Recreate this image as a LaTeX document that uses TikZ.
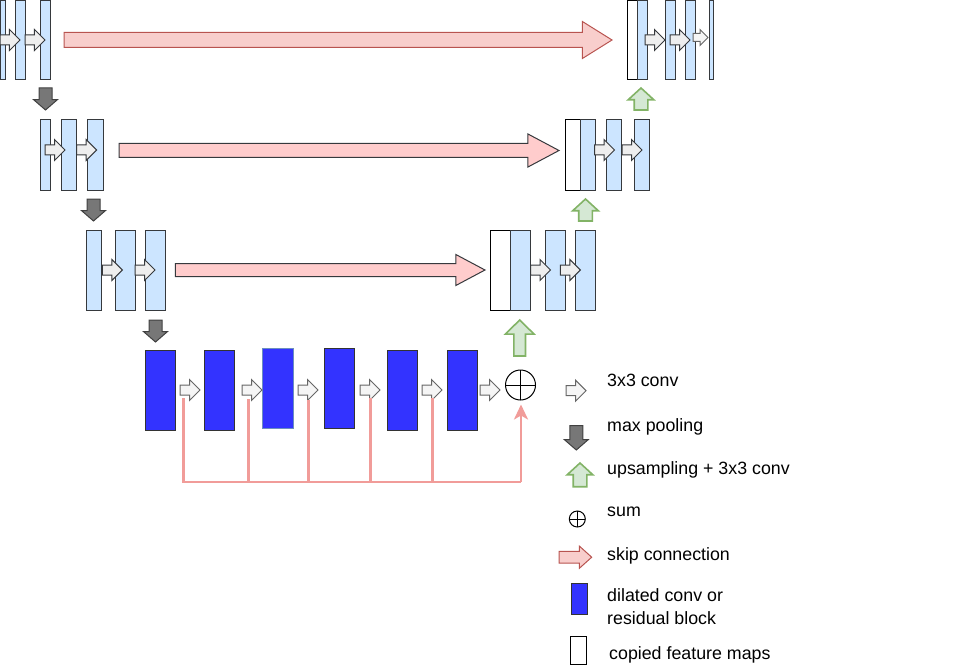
\documentclass[tikz,border=0pt]{standalone}
\usepackage{fontspec}
\setmainfont{Liberation Sans}
\usetikzlibrary{positioning,shapes.arrows,arrows.meta}
\definecolor{mapblue}{HTML}{CCE5FF}
\definecolor{mapline}{HTML}{36393D}
\definecolor{dilblue}{HTML}{3333FF}
\definecolor{convfill}{HTML}{EEEEEE}
\definecolor{convfilltwo}{HTML}{F5F5F5}
\definecolor{poolfill}{HTML}{777777}
\definecolor{upfill}{HTML}{D5E8D4}
\definecolor{upline}{HTML}{82B366}
\definecolor{skipfill}{HTML}{F8CECC}
\definecolor{skipfilltwo}{HTML}{FFCCCC}
\definecolor{skipline}{HTML}{B85450}
\definecolor{resline}{HTML}{F19C99}
\tikzset{basic/.style={draw=mapline,line width=1pt,inner sep=0pt,outer sep=0pt,anchor=north west}}
\tikzset{fmap/.style={basic,fill=mapblue}}
\tikzset{copied/.style={basic,draw=black,fill=white}}
\tikzset{dilated/.style={basic,draw=black!80,fill=dilblue,minimum width=30.5pt,minimum height=80pt}}
\tikzset{arrowbase/.style={single arrow,draw,line width=1pt,inner xsep=0pt,outer sep=0pt,anchor=tail}}
\tikzset{conv/.style={arrowbase,draw=mapline,fill=convfill,minimum height=20pt,inner ysep=4.5pt,single arrow head extend=5.5pt,single arrow tip angle=90}}
\tikzset{convgrey/.style={conv,draw=black!60,fill=convfilltwo}}
\tikzset{pool/.style={arrowbase,rotate=-90,draw=black!75,fill=poolfill,minimum height=22pt,inner ysep=6pt,single arrow head extend=5.5pt,single arrow tip angle=98}}
\tikzset{upconv/.style={arrowbase,rotate=90,draw=upline,fill=upfill,line width=1.6pt,minimum height=22pt,inner ysep=6pt,single arrow head extend=6pt,single arrow tip angle=95}}
\tikzset{skiparrow/.style={arrowbase,draw=mapline,fill=skipfilltwo,inner ysep=6.5pt,single arrow head extend=9.5pt,single arrow tip angle=56}}
\tikzset{sumnode/.style={circle,draw=black,line width=1pt,inner sep=0pt,outer sep=0pt}}
\tikzset{res/.style={draw=resline,line width=2.6pt}}
\tikzset{legend/.style={font=\fontsize{17.8}{22.3}\selectfont,inner sep=0pt,anchor=base west,align=left}}

\begin{document}
\begin{tikzpicture}[x=1pt,y=-1pt]
    \useasboundingbox (0,0) rectangle (969,666);
    % first level
    \node[fmap,minimum width=5pt,minimum height=79.2pt] (enc1a) at (0.5,0.8) {};
    \node[fmap,minimum width=10pt,minimum height=79.2pt] (enc1b) at (15.3,0.8) {};
    \node[fmap,minimum width=10pt,minimum height=79.2pt] (enc1c) at (40.3,0.8) {};
        \node[conv] (cv1a) at (0,40) {};
        \node[conv] (cv1b) at (25,40) {};
    \node[pool] (pl1) at (45.5,88) {};
    \node[skiparrow,draw=skipline,fill=skipfill,inner ysep=7pt,single arrow head extend=11pt,single arrow tip angle=64,minimum height=548pt] (sk1) at (64,40) {};
    \node[copied,minimum width=10pt,minimum height=79.2pt] (cp1) at (627,0.8) {};
    \node[fmap,minimum width=10pt,minimum height=79.2pt] (dec1a) at (637,0.8) {};
    \node[fmap,minimum width=10pt,minimum height=79.2pt] (dec1b) at (665,0.8) {};
    \node[fmap,minimum width=10pt,minimum height=79.2pt] (dec1c) at (685,0.8) {};
    \node[fmap,minimum width=4pt,minimum height=79.2pt] (dec1d) at (709,0.8) {};
        \node[conv] (cv1c) at (645,40) {};
        \node[conv] (cv1d) at (670,40) {};
        \node[conv,draw=black!60,fill=convfilltwo,minimum height=15pt,inner ysep=3.5pt,single arrow head extend=4pt] (cv1e) at (693,37.5) {};
    \node[upconv] (up1) at (641,110) {};
    % second level
    \node[fmap,minimum width=10.4pt,minimum height=70pt] (enc2a) at (40.3,120) {};
    \node[fmap,minimum width=15.4pt,minimum height=70pt] (enc2b) at (61.3,120) {};
    \node[fmap,minimum width=16pt,minimum height=70pt] (enc2c) at (87.3,120) {};
        \node[conv] (cv2a) at (45,150) {};
        \node[conv] (cv2b) at (76.7,150) {};
    \node[pool] (pl2) at (93.5,199) {};
    \node[skiparrow,minimum height=440pt] (sk2) at (119,150.5) {};
    \node[copied,minimum width=15.7pt,minimum height=70pt] (cp2) at (565,120) {};
    \node[fmap,minimum width=15pt,minimum height=70pt] (dec2a) at (580.7,120) {};
    \node[fmap,minimum width=15.3pt,minimum height=70pt] (dec2b) at (606,120) {};
    \node[fmap,minimum width=15.3pt,minimum height=70pt] (dec2c) at (634,120) {};
        \node[conv] (cv2c) at (594.5,150) {};
        \node[conv] (cv2d) at (622,150) {};
    \node[upconv] (up2) at (585.5,221) {};
    % third level
    \node[fmap,minimum width=15.7pt,minimum height=80pt] (enc3a) at (86,230.3) {};
    \node[fmap,minimum width=20pt,minimum height=80pt] (enc3b) at (115.3,230.3) {};
    \node[fmap,minimum width=20.4pt,minimum height=80pt] (enc3c) at (145.3,230.3) {};
        \node[conv] (cv3a) at (102.3,270) {};
        \node[conv] (cv3b) at (135,270) {};
    \node[pool] (pl3) at (155.5,320) {};
    \node[skiparrow,inner ysep=6pt,single arrow head extend=9pt,minimum height=309.7pt] (sk3) at (175.3,270) {};
    \node[copied,minimum width=20.7pt,minimum height=80pt] (cp3) at (490,230.3) {};
    \node[fmap,minimum width=20pt,minimum height=80pt] (dec3a) at (510.7,230.3) {};
    \node[fmap,minimum width=20pt,minimum height=80pt] (dec3b) at (545,230.3) {};
    \node[fmap,minimum width=20.4pt,minimum height=80pt] (dec3c) at (575.3,230.3) {};
        \node[conv] (cv3c) at (530.5,270) {};
        \node[conv] (cv3d) at (560.3,270) {};
    \node[upconv,minimum height=36pt,inner ysep=5pt,single arrow head extend=8.5pt,single arrow tip angle=91] (up3) at (519.7,356) {};
    % bottleneck
    \node[dilated] (blk1) at (145,350.3) {};
    \node[dilated] (blk2) at (204.3,350) {};
    \node[dilated,draw={rgb,255:red,108;green,142;blue,191}] (blk3) at (262.7,348.3) {};
    \node[dilated] (blk4) at (324.3,348) {};
    \node[dilated] (blk5) at (387,350) {};
    \node[dilated] (blk6) at (447,350) {};
        \node[convgrey] (cb1) at (180,390) {};
        \node[convgrey] (cb2) at (242,390) {};
        \node[convgrey] (cb3) at (298,390) {};
        \node[convgrey] (cb4) at (360,390) {};
        \node[convgrey] (cb5) at (422,390) {};
        \node[convgrey] (cb6) at (480,390) {};
    \node[sumnode,minimum size=30pt] (sum) at (520.5,385) {};
        \draw (sum.north) -- (sum.south);
        \draw (sum.west) -- (sum.east);
    \coordinate (r1) at (183.3,398);
    \coordinate (r2) at (248.3,399);
    \coordinate (r3) at (308.3,400);
    \coordinate (r4) at (370.3,398);
    \coordinate (r5) at (432.3,398);
    \coordinate (rb) at (521,482);
        \path[res] (r1) |- (rb);
        \foreach \r in {r2,r3,r4,r5}
            \path[res] (\r) -- (\r |- rb);
        \path[res,-{Stealth[length=15pt,width=14pt,inset=4pt]},shorten >=4.5pt] (rb) -- (rb |- sum.south);
    % legend
    \node[convgrey] (lgconv) at (566,390.7) {};
        \node[legend] (lgconvtxt) at (607,386.7) {3x3 conv};
    \node[pool,minimum height=24.3pt] (lgpool) at (576.3,425.7) {};
        \node[legend] (lgpooltxt) at (607,431.7) {max pooling};
    \node[upconv,minimum height=23.7pt] (lgup) at (580,486.7) {};
        \node[legend] (lguptxt) at (607,474) {upsampling + 3x3 conv};
    \node[sumnode,minimum size=16pt] (lgsum) at (577.3,519) {};
        \draw (lgsum.north) -- (lgsum.south);
        \draw (lgsum.west) -- (lgsum.east);
        \node[legend] (lgsumtxt) at (607,516.7) {sum};
    \node[skiparrow,draw=skipline,fill=skipfill,inner ysep=5.3pt,single arrow head extend=5.2pt,single arrow tip angle=84,minimum height=32.7pt] (lgskip) at (559,557.2) {};
        \node[legend] (lgskiptxt) at (607,560) {skip connection};
    \node[dilated,minimum width=16.3pt,minimum height=31pt] (lgblk) at (571,583.3) {};
        \node[legend] (lgblktxt) at (607,624) {dilated conv or\\residual block};
    \node[copied,minimum width=16.7pt,minimum height=27.6pt] (lgcp) at (570,636.7) {};
        \node[legend] (lgcptxt) at (609,659) {copied feature maps};
\end{tikzpicture}
\end{document}
